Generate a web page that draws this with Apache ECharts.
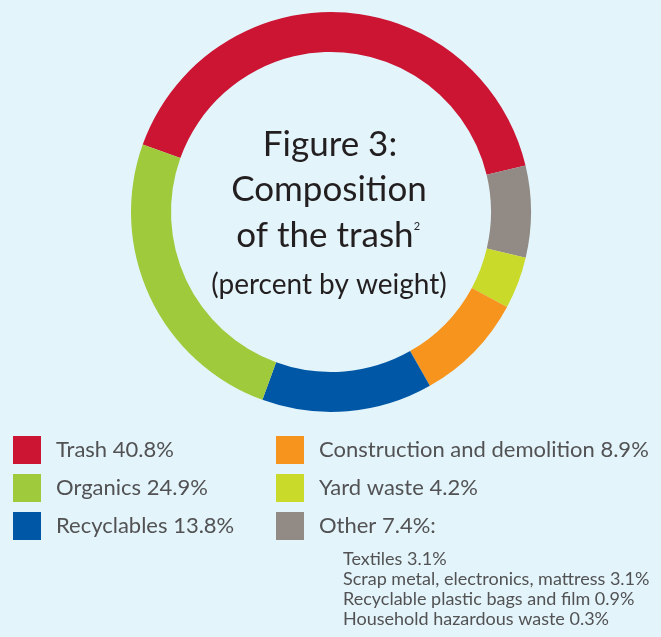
<!DOCTYPE html>
<html>
<head>
<meta charset="utf-8">
<title>Composition of the trash</title>
<script src="https://cdn.jsdelivr.net/npm/echarts@6/dist/echarts.min.js"></script>
<style>
  html, body { margin: 0; padding: 0; background: #e3f4fa; }
  #chart { width: 661px; height: 637px; }
</style>
</head>
<body>
<div id="chart"></div>
<script>
// Waste categories, in ring order (clockwise starting with Trash)
const categories = ['Trash', 'Other', 'Yard waste', 'Construction and demolition', 'Recyclables', 'Organics'];
const percents   = [40.8, 7.4, 4.2, 8.9, 13.8, 24.9];
const colors     = ['#cc1433', '#918a85', '#c9da2a', '#f7941d', '#0057a6', '#9fca3c'];

// Legend columns
const legendLeft  = ['Trash', 'Organics', 'Recyclables'];
const legendRight = ['Construction and demolition', 'Yard waste', 'Other'];

// Breakdown of the "Other" slice
const otherItems  = ['Textiles', 'Scrap metal, electronics, mattress', 'Recyclable plastic bags and film', 'Household hazardous waste'];
const otherValues = [3.1, 3.1, 0.9, 0.3];

const FONT = 'Lato, "Open Sans", sans-serif';
const TEXT_DARK = '#231f20';
const TEXT_GRAY = '#525254';

const chart = echarts.init(document.getElementById('chart'), null, { renderer: 'canvas' });

const valueOf = {};
categories.forEach((c, i) => { valueOf[c] = percents[i]; });

const legendFormatter = name => name + ' ' + valueOf[name] + '%' + (name === 'Other' ? ':' : '');

const legendBase = {
  orient: 'vertical',
  top: 436,
  padding: 0,
  itemWidth: 28,
  itemHeight: 28,
  itemGap: 10,
  icon: 'rect',
  selectedMode: false,
  formatter: legendFormatter,
  textStyle: { fontFamily: FONT, fontSize: 22, color: TEXT_GRAY, padding: [0, 0, 0, 10] }
};

const graphics = [];

// Title lines inside the ring
const titleLines = [
  { text: 'Figure 3:', x: 330, y: 145, size: 35 },
  { text: 'Composition', x: 329, y: 190, size: 35 },
  { text: 'of the trash', x: 325, y: 236, size: 35 }
];
titleLines.forEach(l => {
  graphics.push({
    type: 'text', x: l.x, y: l.y,
    style: { text: l.text, fill: TEXT_DARK, font: 'normal ' + l.size + 'px ' + FONT, align: 'center', verticalAlign: 'middle' }
  });
});
graphics.push({
  type: 'text', x: 417, y: 226,
  style: { text: '2', fill: TEXT_DARK, font: 'normal 11px ' + FONT, align: 'center', verticalAlign: 'middle' }
});
graphics.push({
  type: 'text', x: 329, y: 285,
  style: { text: '(percent by weight)', fill: TEXT_DARK, font: 'normal 28px ' + FONT, align: 'center', verticalAlign: 'middle' }
});

// "Other" breakdown lines
otherItems.forEach((name, i) => {
  graphics.push({
    type: 'text', x: 343, y: 559 + i * 20,
    style: { text: name + ' ' + otherValues[i] + '%', fill: TEXT_GRAY, font: 'normal 18px ' + FONT, align: 'left', verticalAlign: 'middle' }
  });
});

chart.setOption({
  backgroundColor: '#e3f4fa',
  animation: false,
  color: colors,
  legend: [
    Object.assign({}, legendBase, { left: 13, data: legendLeft }),
    Object.assign({}, legendBase, { left: 276, data: legendRight })
  ],
  series: [{
    type: 'pie',
    center: [331, 212],
    radius: [160, 200],
    startAngle: 160.3,
    clockwise: true,
    silent: true,
    label: { show: false },
    labelLine: { show: false },
    itemStyle: { borderWidth: 0 },
    data: categories.map((c, i) => ({ name: c, value: percents[i], itemStyle: { color: colors[i] } }))
  }],
  graphic: graphics
});
</script>
</body>
</html>
